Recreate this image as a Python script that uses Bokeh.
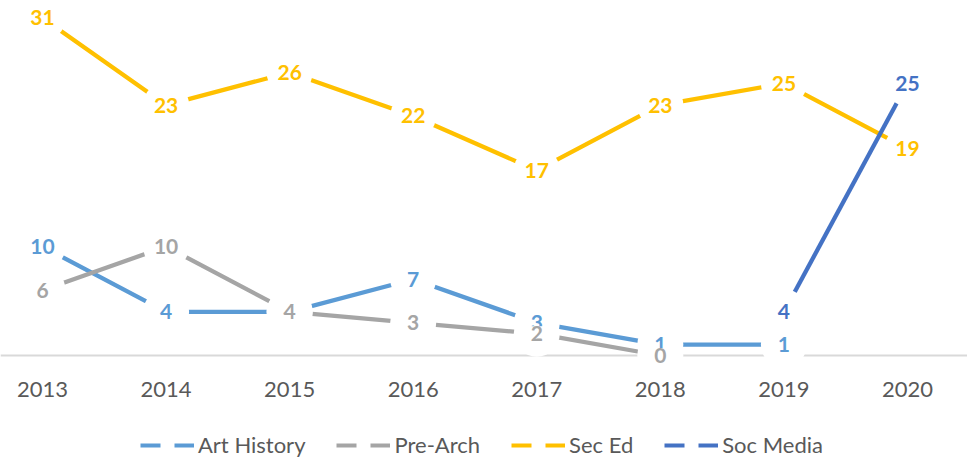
import numpy as np
from bokeh.plotting import figure
from bokeh.models import Range1d, FixedTicker, Legend, LegendItem
from bokeh.core.properties import value
from bokeh.embed import file_html
from bokeh.resources import INLINE

# ---- data ----
years = ["2013", "2014", "2015", "2016", "2017", "2018", "2019", "2020"]
series_names = ["Art History", "Pre-Arch", "Sec Ed", "Soc Media"]
art_history = [10, 4, 4, 7, 3, 1, 1, None]
pre_arch = [6, 10, 4, 3, 2, 0, None, None]
sec_ed = [31, 23, 26, 22, 17, 23, 25, 19]
soc_media = [None, None, None, None, None, None, 4, 25]

colors = ["#5B9BD5", "#A5A5A5", "#FFC000", "#4472C4"]
all_series = [art_history, pre_arch, sec_ed, soc_media]

x_idx = list(range(len(years)))

p = figure(width=967, height=458, output_backend="svg", toolbar_location=None,
           x_range=Range1d(-0.340, 7.486), y_range=Range1d(-9.461, 32.607),
           min_border=0, outline_line_color=None)
p.grid.visible = False
p.yaxis.visible = False
p.background_fill_color = "white"
p.border_fill_color = "white"

xa = p.xaxis[0]
xa.fixed_location = 0
xa.ticker = FixedTicker(ticks=x_idx)
xa.major_label_overrides = {i: y for i, y in zip(x_idx, years)}
xa.axis_line_color = "#D9D9D9"
xa.axis_line_width = 2
xa.major_tick_line_color = None
xa.minor_tick_line_color = None
xa.major_tick_out = 0
xa.major_tick_in = 0
xa.major_label_standoff = 27
xa.major_label_text_font = "Lato"
xa.major_label_text_font_size = "22px"
xa.major_label_text_color = "#595959"

# lines
for vals, c in zip(all_series, colors):
    ys = [np.nan if v is None else v for v in vals]
    p.line(x_idx, ys, line_color=c, line_width=4.3, line_join="round")

# white markers (gaps around labels)
for vals in all_series:
    xs = [i for i, v in zip(x_idx, vals) if v is not None]
    vs = [v for v in vals if v is not None]
    p.scatter(xs, vs, size=46, fill_color="white", line_color=None, level="annotation")

# data labels
for vals, c in zip(all_series, colors):
    xs = [i for i, v in zip(x_idx, vals) if v is not None]
    vs = [v for v in vals if v is not None]
    p.text(xs, vs, text=[str(v) for v in vs], text_font=value("Lato"),
           text_font_style="bold", text_font_size="21px", text_color=c,
           text_align="center", text_baseline="middle",
           background_fill_color="white", level="overlay")

# legend (dashed sample = line with white marker gap)
items = []
for name, c in zip(series_names, colors):
    r = p.line([np.nan, np.nan], [np.nan, np.nan], line_color=c, line_width=4,
               line_dash="20 14")
    items.append(LegendItem(label=name, renderers=[r]))
legend = Legend(items=items, orientation="horizontal", location=(140, 0),
                glyph_width=54, glyph_height=20, label_standoff=4, spacing=31,
                padding=0, margin=0, border_line_color=None,
                background_fill_alpha=0, label_text_font="Lato",
                label_text_font_size="22px", label_text_color="#595959")
p.add_layout(legend, "center")

open("out.html", "w").write(file_html(p, INLINE))
